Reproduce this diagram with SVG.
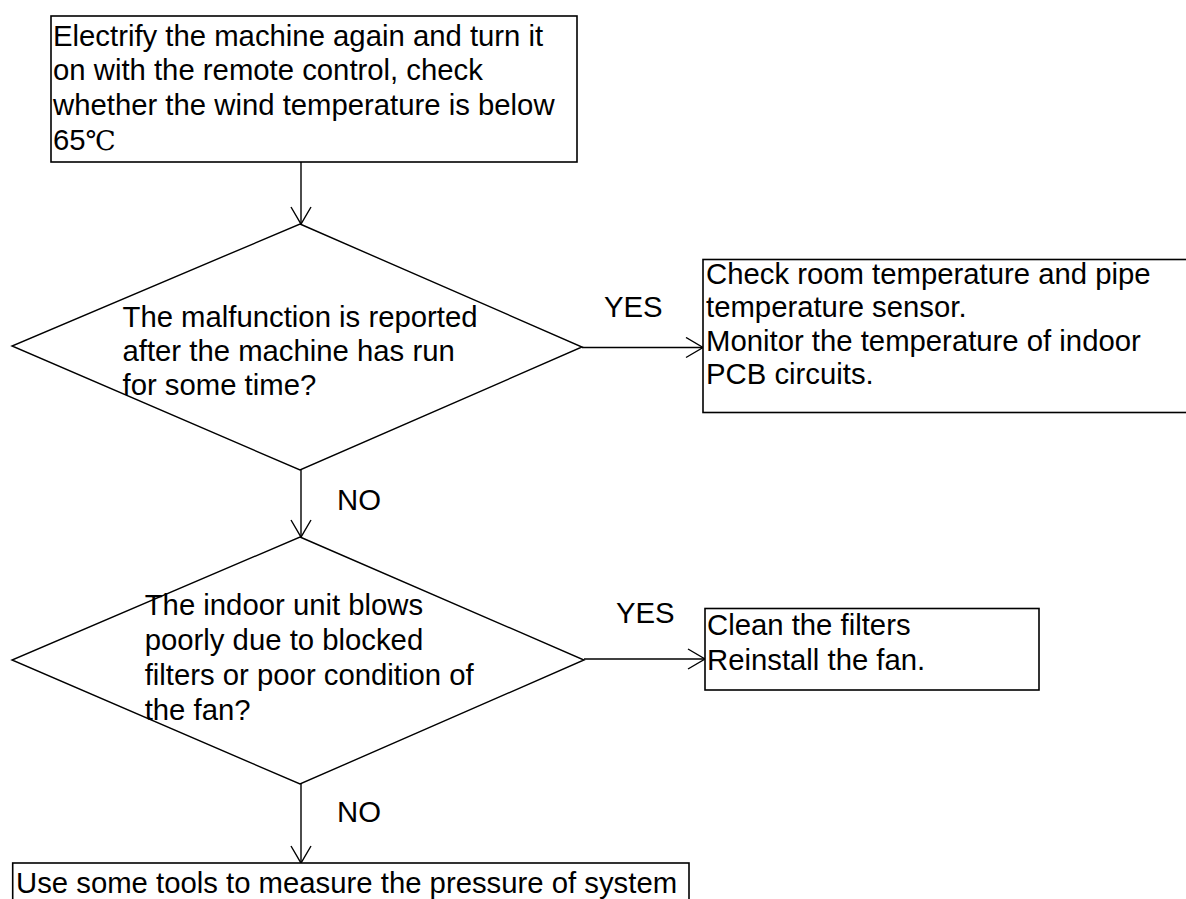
<svg xmlns="http://www.w3.org/2000/svg" width="1186" height="899" viewBox="0 0 1186 899">
<style>
text{font-family:"Liberation Sans",Arial,sans-serif;font-size:29.3px;fill:#000}
.box{fill:#fff;stroke:#000;stroke-width:1.6}
.dia{fill:#fff;stroke:#000;stroke-width:1.4}
.ln{fill:none;stroke:#000;stroke-width:1.4}
.deg{font-family:"Liberation Serif","DejaVu Serif",serif;font-size:27px;font-weight:300}
</style>
<defs>
<marker id="arr" viewBox="0 0 20 22" refX="18" refY="11" markerWidth="20" markerHeight="22" markerUnits="userSpaceOnUse" orient="auto">
<path d="M1,1 L18,11 L1,21" fill="none" stroke="#000" stroke-width="1.4"/>
</marker>
</defs>
<g id="connectors">
<line class="ln" x1="301" y1="162" x2="301" y2="224" marker-end="url(#arr)"/>
<line class="ln" x1="582" y1="347.5" x2="703" y2="347.5" marker-end="url(#arr)"/>
<line class="ln" x1="301" y1="470" x2="301" y2="537" marker-end="url(#arr)"/>
<line class="ln" x1="584" y1="659" x2="705" y2="659" marker-end="url(#arr)"/>
<line class="ln" x1="301" y1="784" x2="301" y2="863" marker-end="url(#arr)"/>
<text x="604" y="317">YES</text>
<text x="616" y="623">YES</text>
<text x="337" y="510">NO</text>
<text x="337" y="822">NO</text>
</g>
<g id="start">
<rect class="box" x="51" y="16" width="526" height="146"/>
<text x="53" y="45.5">Electrify the machine again and turn it</text>
<text x="53" y="80">on with the remote control, check</text>
<text x="53" y="114.5">whether the wind temperature is below</text>
<text x="53" y="150">65<tspan class="deg">℃</tspan></text>
</g>
<g id="decision1">
<polygon class="dia" points="300,224 582,347 300,470 12,346"/>
<text x="122.5" y="327">The malfunction is reported</text>
<text x="122.5" y="361">after the machine has run</text>
<text x="122.5" y="395">for some time?</text>
</g>
<g id="action1">
<rect class="box" x="703" y="259.5" width="500" height="153"/>
<text x="706" y="283.5">Check room temperature and pipe</text>
<text x="706" y="317">temperature sensor.</text>
<text x="706" y="350.5">Monitor the temperature of indoor</text>
<text x="706" y="384">PCB circuits.</text>
</g>
<g id="decision2">
<polygon class="dia" points="300,537 584,660 300,784 12,660"/>
<text x="144.7" y="615">The indoor unit blows</text>
<text x="144.7" y="650">poorly due to blocked</text>
<text x="144.7" y="685">filters or poor condition of</text>
<text x="144.7" y="720">the fan?</text>
</g>
<g id="action2">
<rect class="box" x="705" y="608.5" width="334" height="81.5"/>
<text x="707" y="635">Clean the filters</text>
<text x="707" y="670">Reinstall the fan.</text>
</g>
<g id="end">
<rect class="box" x="12.7" y="863" width="676.3" height="60"/>
<text x="16" y="893">Use some tools to measure the pressure of system</text>
</g>
</svg>
